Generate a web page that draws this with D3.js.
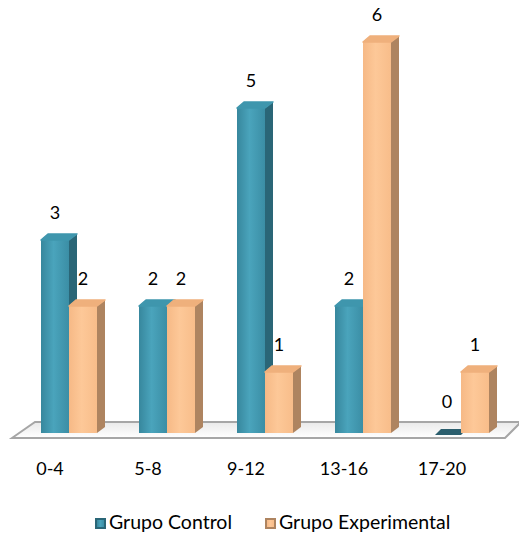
<!DOCTYPE html>
<html>
<head>
<meta charset="utf-8">
<script src="https://cdn.jsdelivr.net/npm/d3@7"></script>
<style>
  html, body { margin: 0; padding: 0; background: #fff; }
  svg { display: block; }
  text { font-family: Lato, "Open Sans", sans-serif; fill: #000; }
</style>
</head>
<body>
<svg id="chart" width="519" height="536"></svg>
<script>
// Score ranges and counts per group
const categories = ["0-4", "5-8", "9-12", "13-16", "17-20"];
const seriesNames = ["Grupo Control", "Grupo Experimental"];
const grupoControl = [3, 2, 5, 2, 0];
const grupoExperimental = [2, 2, 1, 6, 1];
const yMax = 6;

const svg = d3.select("#chart");
const defs = svg.append("defs");

// Colour sets for the three visible faces of each 3D bar
const palette = {
  "Grupo Control": {
    front: ["#37879d", "#4aa4bc", "#3b8ea5"],
    side: "#2a6677",
    top: "#3f96ad",
    flat: "#2b5e6d"
  },
  "Grupo Experimental": {
    front: ["#f6b986", "#fdc898", "#f8bd8a"],
    side: "#ae8460",
    top: "#efb07c",
    flat: "#ae8460"
  }
};

seriesNames.forEach((s, i) => {
  const g = defs.append("linearGradient")
    .attr("id", "front" + i)
    .attr("x1", "0%").attr("x2", "100%").attr("y1", "0%").attr("y2", "0%");
  g.append("stop").attr("offset", "0%").attr("stop-color", palette[s].front[0]);
  g.append("stop").attr("offset", "45%").attr("stop-color", palette[s].front[1]);
  g.append("stop").attr("offset", "100%").attr("stop-color", palette[s].front[2]);
});

// Floor shading
const fg = defs.append("linearGradient")
  .attr("id", "floorGrad").attr("x1", "0%").attr("x2", "0%").attr("y1", "0%").attr("y2", "100%");
fg.append("stop").attr("offset", "0%").attr("stop-color", "#e9e9e9");
fg.append("stop").attr("offset", "100%").attr("stop-color", "#ffffff");

// Scales
const x = d3.scaleBand().domain(categories).range([41, 41 + 98 * categories.length]);
const xs = d3.scaleBand().domain(seriesNames).range([0, 56]);
const y = d3.scaleLinear().domain([0, yMax]).range([438, 42]);

const depthX = 8, depthY = 6;   // 3D offset of bar tops and sides
const barBottom = 433;

// Floor plane
svg.append("path")
  .attr("d", "M12,438 L35,422 L519,422 L519,424 L505,438 Z")
  .attr("fill", "url(#floorGrad)")
  .attr("stroke", "#a6a6a6")
  .attr("stroke-width", 2)
  .attr("stroke-linejoin", "miter");

// Flatten into bar records
const data = [];
categories.forEach((c, ci) => {
  data.push({ cat: c, series: seriesNames[0], si: 0, value: grupoControl[ci] });
  data.push({ cat: c, series: seriesNames[1], si: 1, value: grupoExperimental[ci] });
});

const bars = svg.append("g").attr("class", "bars");
data.forEach(d => {
  const x0 = x(d.cat) + xs(d.series);
  const w = xs.bandwidth();
  const p = palette[d.series];
  const g = bars.append("g");
  if (d.value === 0) {
    // Zero-height bar: only its flat lid shows on the floor
    g.append("path")
      .attr("d", `M${x0 + 2},${barBottom + 2} L${x0 + w},${barBottom + 2} L${x0 + w + depthX - 2},${barBottom - depthY + 2} L${x0 + depthX},${barBottom - depthY + 2} Z`)
      .attr("fill", p.flat);
    return;
  }
  const yt = y(d.value);
  // side face
  g.append("path")
    .attr("d", `M${x0 + w},${yt} L${x0 + w + depthX},${yt - depthY} L${x0 + w + depthX},${barBottom - depthY} L${x0 + w},${barBottom} Z`)
    .attr("fill", p.side);
  // front face
  g.append("rect")
    .attr("x", x0).attr("y", yt)
    .attr("width", w).attr("height", barBottom - yt)
    .attr("fill", `url(#front${d.si})`);
  // top face
  g.append("path")
    .attr("d", `M${x0},${yt} L${x0 + w},${yt} L${x0 + w + depthX},${yt - depthY} L${x0 + depthX - 1},${yt - depthY} Z`)
    .attr("fill", p.top)
    .attr("stroke", p.top)
    .attr("stroke-width", 1.5)
    .attr("stroke-linejoin", "round");
});

// Value labels
svg.append("g").selectAll("text")
  .data(data)
  .join("text")
  .attr("x", d => x(d.cat) + xs(d.series) + xs.bandwidth() / 2)
  .attr("y", d => Math.min(y(d.value), 429) - 21)
  .attr("text-anchor", "middle")
  .attr("font-size", 18)
  .text(d => d.value);

// Category axis labels
const xAxis = d3.axisBottom(x).tickSize(0).tickPadding(0);
const axisG = svg.append("g").attr("transform", "translate(-40,462)").call(xAxis);
axisG.select(".domain").remove();
axisG.selectAll(".tick text")
  .attr("font-size", 18)
  .attr("font-family", "Lato, 'Open Sans', sans-serif")
  .attr("fill", "#000");

// Legend
const legend = svg.append("g");
const legendItems = [
  { name: seriesNames[0], x: 95 },
  { name: seriesNames[1], x: 265 }
];
legendItems.forEach((it, i) => {
  const g = legend.append("g").attr("transform", `translate(${it.x},518)`);
  g.append("rect").attr("width", 11).attr("height", 11).attr("fill", palette[it.name].side);
  g.append("rect").attr("x", 2).attr("y", 2).attr("width", 7).attr("height", 7).attr("fill", `url(#front${i})`);
  g.append("text").attr("x", 14).attr("y", 10.5).attr("font-size", 19.5).text(it.name);
});
</script>
</body>
</html>
